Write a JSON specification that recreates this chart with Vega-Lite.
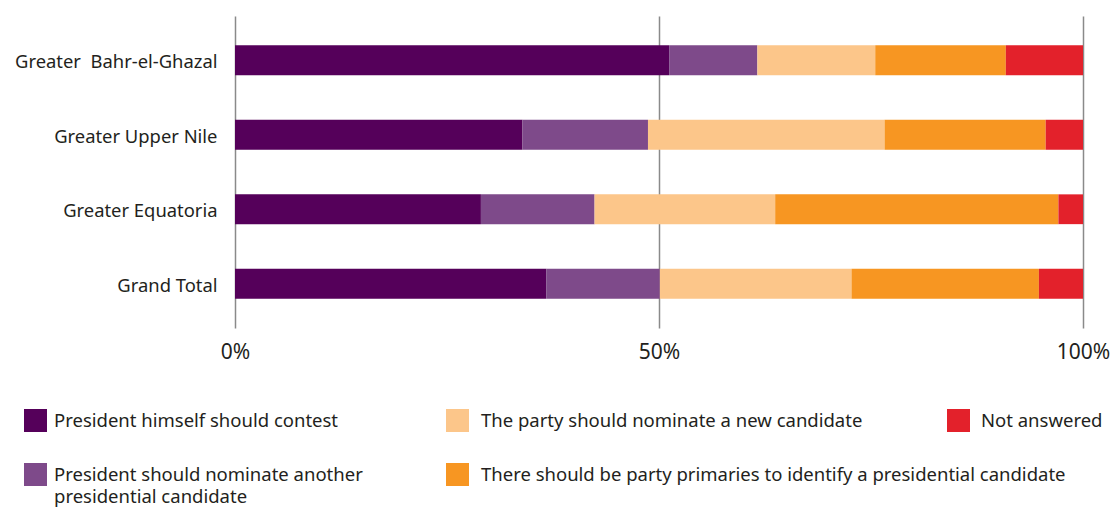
{
  "$schema": "https://vega.github.io/schema/vega-lite/v6.json",
  "width": 848,
  "height": 312,
  "autosize": {"type": "none"},
  "padding": {"left": 235, "top": 16, "right": 32, "bottom": 179},
  "background": "white",
  "config": {"view": {"stroke": null}, "font": "Noto Sans"},
  "data": {"values": [
    {"region": "Greater  Bahr-el-Ghazal", "answer": "President himself should contest", "value": 51.2},
    {"region": "Greater  Bahr-el-Ghazal", "answer": "President should nominate another presidential candidate", "value": 10.4},
    {"region": "Greater  Bahr-el-Ghazal", "answer": "The party should nominate a new candidate", "value": 13.9},
    {"region": "Greater  Bahr-el-Ghazal", "answer": "There should be party primaries to identify a presidential candidate", "value": 15.4},
    {"region": "Greater  Bahr-el-Ghazal", "answer": "Not answered", "value": 9.1},
    {"region": "Greater Upper Nile", "answer": "President himself should contest", "value": 33.9},
    {"region": "Greater Upper Nile", "answer": "President should nominate another presidential candidate", "value": 14.8},
    {"region": "Greater Upper Nile", "answer": "The party should nominate a new candidate", "value": 27.9},
    {"region": "Greater Upper Nile", "answer": "There should be party primaries to identify a presidential candidate", "value": 19.0},
    {"region": "Greater Upper Nile", "answer": "Not answered", "value": 4.4},
    {"region": "Greater Equatoria", "answer": "President himself should contest", "value": 29.0},
    {"region": "Greater Equatoria", "answer": "President should nominate another presidential candidate", "value": 13.4},
    {"region": "Greater Equatoria", "answer": "The party should nominate a new candidate", "value": 21.3},
    {"region": "Greater Equatoria", "answer": "There should be party primaries to identify a presidential candidate", "value": 33.4},
    {"region": "Greater Equatoria", "answer": "Not answered", "value": 2.9},
    {"region": "Grand Total", "answer": "President himself should contest", "value": 36.7},
    {"region": "Grand Total", "answer": "President should nominate another presidential candidate", "value": 13.4},
    {"region": "Grand Total", "answer": "The party should nominate a new candidate", "value": 22.6},
    {"region": "Grand Total", "answer": "There should be party primaries to identify a presidential candidate", "value": 22.1},
    {"region": "Grand Total", "answer": "Not answered", "value": 5.2}
  ]},
  "transform": [
    {"calculate": "indexof(['President himself should contest','President should nominate another presidential candidate','The party should nominate a new candidate','There should be party primaries to identify a presidential candidate','Not answered'], datum.answer)", "as": "rank"},
    {"stack": "value", "groupby": ["region"], "sort": [{"field": "rank", "order": "ascending"}], "offset": "normalize", "as": ["v0", "v1"]}
  ],
  "encoding": {
    "y": {
      "field": "region", "type": "nominal",
      "sort": ["Greater  Bahr-el-Ghazal", "Greater Upper Nile", "Greater Equatoria", "Grand Total"],
      "scale": {"paddingInner": 0.6, "paddingOuter": 0.394},
      "axis": {"title": null, "domain": false, "ticks": false, "labelPadding": 18, "labelFontSize": 18.4, "labelColor": "#231F20", "labelLimit": 400, "labelOffset": 2,
        "labelExpr": "replace(datum.label, '  ', ' \u00a0')"}
    },
    "x": {
      "field": "v0", "type": "quantitative",
      "scale": {"domain": [0, 1]},
      "axis": {"title": null, "values": [0, 0.5, 1], "format": "%", "domain": false, "ticks": false, "grid": true, "gridColor": "#8a8a8a", "gridWidth": 1.5, "labelFontSize": 21, "labelPadding": 13, "labelColor": "#231F20", "labelFlush": false}
    },
    "x2": {"field": "v1"}
  },
  "layer": [
    {
      "transform": [{"filter": "datum.rank <= 1"}],
      "mark": {"type": "bar"},
      "encoding": {
        "color": {
          "field": "answer", "type": "nominal",
          "scale": {"domain": ["President himself should contest", "President should nominate another presidential candidate"], "range": ["#55005A", "#7E4A8A"]},
          "legend": {"orient": "none", "legendX": -211, "legendY": 393, "direction": "vertical", "title": null, "padding": 0,
            "symbolType": "square", "symbolSize": 529, "symbolStrokeWidth": 0, "symbolOpacity": 1,
            "labelFontSize": 18.5, "labelColor": "#231F20", "labelOffset": 7, "rowPadding": 31, "labelLimit": 700,
            "labelExpr": "datum.label == 'President should nominate another presidential candidate' ? ['President should nominate another', 'presidential candidate'] : datum.label",
            "encoding": {"labels": {"lineHeight": {"value": 22}}}}
        }
      }
    },
    {
      "transform": [{"filter": "datum.rank == 2 || datum.rank == 3"}],
      "mark": {"type": "bar"},
      "encoding": {
        "color": {
          "field": "answer", "type": "nominal",
          "scale": {"domain": ["The party should nominate a new candidate", "There should be party primaries to identify a presidential candidate"], "range": ["#FCC68A", "#F79622"]},
          "legend": {"orient": "none", "legendX": 211, "legendY": 393, "direction": "vertical", "title": null, "padding": 0,
            "symbolType": "square", "symbolSize": 529, "symbolStrokeWidth": 0, "symbolOpacity": 1,
            "labelFontSize": 18.5, "labelColor": "#231F20", "labelOffset": 12, "rowPadding": 31, "labelLimit": 700}
        }
      }
    },
    {
      "transform": [{"filter": "datum.rank == 4"}],
      "mark": {"type": "bar"},
      "encoding": {
        "color": {
          "field": "answer", "type": "nominal",
          "scale": {"domain": ["Not answered"], "range": ["#E3212B"]},
          "legend": {"orient": "none", "legendX": 712, "legendY": 393, "direction": "vertical", "title": null, "padding": 0,
            "symbolType": "square", "symbolSize": 529, "symbolStrokeWidth": 0, "symbolOpacity": 1,
            "labelFontSize": 18.5, "labelColor": "#231F20", "labelOffset": 11, "labelLimit": 700}
        }
      }
    }
  ],
  "resolve": {"scale": {"color": "independent"}}
}
